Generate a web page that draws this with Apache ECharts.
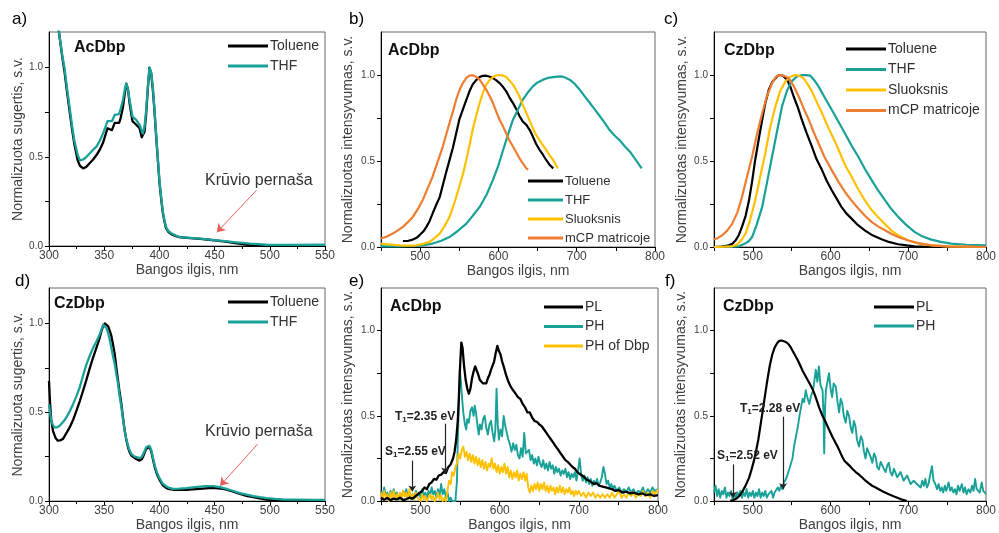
<!DOCTYPE html>
<html><head><meta charset="utf-8">
<script src="https://cdn.jsdelivr.net/npm/echarts@6/dist/echarts.min.js"></script>
<style>html,body{margin:0;padding:0;background:#fff}#c{width:999px;height:533px}</style>
</head><body><div id="c"></div>
<script>
// ---------- DATA (wavelength nm, normalized value) ----------
const aTol=[[305,1.45],[309,1.2],[312,1.06],[314,0.98],[316,0.88],[319,0.74],[321,0.65],[323,0.57],[326,0.48],[328,0.45],[331,0.435],[334,0.445],[337,0.465],[340,0.485],[343,0.51],[346,0.54],[349,0.58],[351,0.62],[353,0.66],[355,0.655],[357,0.65],[359.5,0.69],[361,0.695],[363.5,0.69],[365,0.72],[367,0.78],[369,0.87],[370,0.91],[371.5,0.88],[373,0.80],[375.6,0.70],[377,0.69],[379,0.68],[382,0.66],[384,0.61],[385,0.60],[386.5,0.64],[388,0.74],[389.5,0.88],[391,1.0],[392.5,0.97],[394,0.88],[395.5,0.76],[397,0.62],[398.5,0.49],[400,0.36],[401.5,0.27],[403,0.19],[404.5,0.14],[406,0.10],[408,0.08],[411,0.065],[415,0.055],[418,0.05],[425,0.046],[437,0.04],[445,0.035],[452,0.03],[460,0.024],[467,0.018],[475,0.01],[482,0.005],[490,0.003],[497,0.002],[520,0.002],[550,0.002]];
const aTHF=[[305,1.45],[309,1.2],[312,1.07],[314,1.0],[316,0.9],[319,0.76],[321,0.67],[323,0.59],[326,0.51],[328,0.48],[331,0.485],[334,0.50],[337,0.52],[340,0.54],[343,0.557],[346,0.59],[349,0.632],[351,0.665],[353,0.70],[355,0.70],[357,0.70],[359.5,0.735],[361,0.74],[363.5,0.74],[365,0.77],[367,0.82],[369,0.89],[370,0.91],[371.5,0.88],[373,0.82],[375.6,0.726],[377,0.715],[379,0.707],[382,0.68],[384,0.645],[385,0.63],[386.5,0.67],[388,0.76],[389.5,0.89],[391,1.0],[392.5,0.975],[394,0.895],[395.5,0.77],[397,0.63],[398.5,0.50],[400,0.37],[401.5,0.28],[403,0.20],[404.5,0.145],[406,0.107],[408,0.085],[411,0.07],[415,0.058],[418.5,0.05],[425,0.047],[437,0.041],[445,0.036],[452,0.032],[460,0.027],[467,0.022],[475,0.017],[482,0.013],[490,0.01],[497,0.007],[520,0.006],[550,0.007]];

const bTol=[[478,0.035],[485,0.036],[490.6,0.043],[495,0.052],[499,0.068],[504,0.09],[508,0.117],[512,0.15],[516,0.195],[520,0.24],[525,0.29],[529,0.36],[533,0.43],[537.5,0.505],[542,0.58],[546,0.66],[550,0.74],[554.6,0.80],[559,0.856],[563,0.905],[567,0.944],[571.5,0.97],[576,0.988],[580,0.995],[584.5,0.996],[589,0.99],[593,0.982],[597,0.97],[601.5,0.953],[606,0.93],[610,0.905],[614,0.87],[618.6,0.837],[623,0.80],[627,0.76],[631,0.73],[635.7,0.71],[640,0.68],[644,0.642],[648,0.60],[652.7,0.564],[657,0.535],[661,0.506],[665,0.48],[670,0.457]];
const bTHF=[[450,0.004],[470,0.004],[495,0.006],[505,0.01],[516,0.02],[527,0.036],[537.5,0.058],[548,0.093],[559,0.136],[567,0.18],[576,0.233],[585,0.305],[593,0.39],[600,0.475],[606,0.564],[612,0.65],[618.6,0.74],[625,0.80],[631,0.856],[637,0.895],[644,0.934],[650,0.957],[657,0.973],[663,0.983],[670,0.988],[675,0.99],[680.5,0.992],[685,0.985],[691,0.973],[697,0.95],[704,0.914],[710,0.877],[716.8,0.837],[723,0.80],[729.6,0.76],[736,0.72],[742,0.68],[748,0.65],[755,0.62],[761,0.587],[768,0.554],[775,0.51],[783,0.457]];
const bSl=[[450,0.02],[460,0.015],[473.5,0.01],[485,0.008],[495,0.01],[504,0.018],[512,0.03],[518,0.05],[525,0.078],[531,0.12],[537.5,0.175],[544,0.26],[550,0.35],[555,0.43],[559,0.506],[563,0.59],[567,0.68],[571.5,0.76],[576,0.837],[580,0.895],[584.5,0.944],[589,0.972],[593,0.988],[597,0.997],[601.5,1.0],[606,0.996],[610,0.988],[614,0.968],[618.6,0.944],[623,0.91],[627,0.875],[631,0.828],[635.7,0.778],[640,0.733],[644,0.69],[648,0.653],[652.7,0.62],[657,0.59],[661,0.564],[665,0.535],[670,0.506],[673,0.48],[676,0.457]];
const bmCP=[[450,0.049],[457,0.06],[465,0.078],[471,0.095],[478,0.117],[484,0.143],[490.6,0.175],[497,0.22],[503,0.27],[509,0.335],[516,0.41],[522,0.49],[529,0.584],[533,0.65],[537.5,0.72],[542,0.79],[546,0.856],[550,0.91],[554.6,0.953],[559,0.983],[563,0.996],[567,0.998],[571.5,0.99],[576,0.973],[580,0.945],[584.5,0.914],[589,0.876],[593,0.837],[597,0.79],[601.5,0.74],[606,0.70],[610,0.66],[614,0.62],[618.6,0.584],[623,0.548],[627,0.515],[631,0.487],[635.7,0.457],[638,0.45]];

const cTol=[[450,0],[460,0.003],[469,0.01],[474,0.02],[478,0.04],[482,0.07],[486,0.117],[490.6,0.18],[495,0.27],[499,0.38],[503,0.506],[507.5,0.625],[512,0.74],[516,0.835],[520.5,0.914],[525,0.96],[529,0.98],[532,0.995],[535,1.0],[539,0.995],[544,0.973],[548,0.935],[552.5,0.875],[558,0.81],[563,0.74],[569,0.665],[576,0.584],[582,0.51],[589,0.447],[595,0.385],[601.5,0.33],[608,0.28],[614,0.233],[620,0.197],[627,0.165],[635,0.128],[644,0.097],[654,0.068],[665.6,0.045],[676,0.028],[687,0.016],[698,0.009],[708,0.004],[730,0.001],[800,0]];
const cTHF=[[450,0],[470,0.002],[482,0.004],[490,0.02],[495,0.035],[499,0.058],[505,0.13],[512,0.233],[518,0.37],[524.7,0.525],[531,0.67],[537.5,0.817],[544,0.91],[550,0.963],[556,0.99],[563,1.0],[568,0.999],[574,0.996],[579,0.97],[584.5,0.934],[593,0.865],[601.5,0.798],[610,0.73],[618.6,0.66],[627,0.59],[635.7,0.525],[644,0.455],[652.7,0.39],[661,0.33],[670,0.272],[678,0.222],[687,0.175],[697,0.13],[708,0.088],[718,0.062],[729.6,0.043],[742,0.03],[755,0.02],[775,0.013],[800,0.01]];
const cSl=[[450,0],[465,0.002],[473.5,0.004],[480,0.015],[486,0.045],[490.6,0.078],[496,0.15],[503,0.27],[509,0.4],[516,0.545],[522,0.69],[529,0.817],[535,0.905],[542,0.963],[548,0.99],[554.6,1.0],[560,0.995],[565,0.982],[570,0.95],[576,0.905],[582,0.845],[589,0.778],[595,0.715],[601.5,0.652],[608,0.59],[614,0.525],[620,0.465],[627,0.41],[635,0.34],[644,0.272],[652,0.22],[661,0.175],[670,0.133],[678,0.097],[688,0.065],[699.7,0.039],[710,0.024],[721,0.014],[735,0.008],[751,0.004],[800,0]];
const cmCP=[[450,0.043],[455,0.053],[460.7,0.068],[467,0.095],[473.5,0.136],[480,0.2],[486,0.29],[492,0.4],[499,0.525],[505,0.65],[512,0.778],[518,0.875],[524.7,0.953],[530,0.99],[535,1.0],[540,0.995],[546,0.982],[552,0.94],[559,0.875],[565,0.81],[572,0.74],[578,0.67],[584.5,0.603],[592,0.525],[601.5,0.447],[610,0.38],[618.6,0.32],[627,0.27],[635.7,0.224],[644,0.183],[652.7,0.146],[661,0.12],[670,0.097],[678,0.077],[687,0.058],[700,0.038],[712.5,0.023],[729.6,0.01],[751,0.004],[775,0.002],[800,0]];

const dTol=[[300,0.677],[301,0.546],[302,0.46],[303.6,0.396],[306,0.355],[308,0.34],[310,0.342],[312.7,0.35],[315.5,0.38],[318.7,0.415],[322,0.46],[324.8,0.508],[328,0.565],[330.8,0.62],[334,0.685],[337,0.75],[340,0.81],[343,0.864],[345.5,0.91],[347.5,0.957],[349,0.985],[350.5,1.0],[352,0.998],[353.5,0.985],[355,0.96],[356.5,0.93],[358,0.88],[359.6,0.826],[361,0.75],[362.6,0.677],[364,0.61],[365.6,0.546],[367,0.47],[368.6,0.396],[370,0.345],[371.6,0.303],[373,0.275],[374.7,0.256],[377,0.245],[379,0.237],[382,0.228],[384,0.235],[385,0.247],[386.5,0.27],[388,0.293],[389.5,0.303],[390.7,0.306],[392,0.29],[392.8,0.275],[394,0.24],[395.8,0.19],[398,0.148],[400.4,0.116],[403,0.09],[406.4,0.073],[409,0.067],[412.5,0.064],[418,0.063],[424.5,0.064],[430,0.066],[436.6,0.069],[442,0.072],[448.7,0.075],[455,0.071],[460.8,0.064],[467,0.053],[473,0.041],[479,0.03],[485,0.022],[491,0.015],[497,0.009],[505,0.006],[512,0.004],[530,0.002],[550,0.001]];
const dTHF=[[300,0.546],[301,0.5],[302,0.452],[303.5,0.43],[305,0.415],[307,0.415],[309.7,0.424],[312.7,0.445],[315.7,0.471],[318.7,0.505],[321.8,0.546],[324.8,0.59],[327.8,0.64],[331,0.71],[333.9,0.77],[337,0.82],[340,0.864],[343,0.9],[346,0.94],[348,0.975],[349,0.994],[350.5,0.998],[352,0.975],[353.5,0.948],[355,0.91],[356.5,0.864],[358,0.815],[359.6,0.77],[361,0.715],[362.6,0.658],[364,0.59],[365.6,0.527],[367,0.46],[368.6,0.396],[370,0.35],[371.6,0.312],[373,0.285],[374.7,0.265],[377,0.253],[379,0.247],[382,0.243],[384,0.248],[385,0.256],[386.5,0.28],[388,0.303],[389.5,0.312],[390.7,0.312],[392,0.298],[392.8,0.284],[394,0.25],[395.8,0.2],[398,0.158],[400.4,0.125],[403,0.098],[406.4,0.082],[409,0.074],[412.5,0.069],[418,0.07],[424.5,0.073],[430,0.077],[436.6,0.082],[442,0.084],[448.7,0.084],[455,0.079],[460.8,0.069],[467,0.057],[473,0.045],[479,0.036],[485,0.028],[491,0.022],[497,0.017],[505,0.012],[512,0.009],[525,0.008],[540,0.007],[550,0.007]];

const ePL=[[450,0.02],[454,0.008],[458,0.018],[462,0.005],[466,0.015],[470,0.01],[474,0.02],[478,0.006],[482,0.012],[486,0.02],[490,0.015],[494,0.03],[498,0.045],[502,0.06],[505,0.08],[508,0.07],[511,0.1],[514,0.11],[517,0.13],[520,0.125],[523,0.15],[526,0.155],[529,0.17],[532,0.165],[535,0.2],[538,0.215],[541,0.25],[543,0.29],[545,0.36],[547,0.47],[548.5,0.62],[550,0.8],[551.5,0.93],[553,0.9],[555,0.79],[557,0.71],[559,0.66],[561,0.63],[563,0.66],[565,0.72],[567,0.76],[569,0.79],[571,0.78],[573,0.74],[575,0.71],[577,0.7],[579,0.69],[581,0.7],[583,0.69],[585,0.72],[587,0.74],[589,0.77],[591,0.78],[593,0.82],[595,0.87],[597,0.91],[599,0.88],[601,0.86],[603,0.82],[605,0.79],[608,0.74],[611,0.7],[614,0.67],[617,0.65],[620,0.63],[623,0.61],[626,0.6],[629,0.57],[632,0.55],[635,0.52],[638,0.52],[641,0.49],[644,0.47],[647,0.465],[650,0.45],[653,0.44],[656,0.42],[659,0.4],[662,0.38],[665,0.36],[668,0.34],[671,0.32],[674,0.3],[677,0.28],[680,0.26],[683,0.24],[686,0.23],[689,0.215],[692,0.2],[695,0.19],[698,0.17],[701,0.16],[704,0.15],[707,0.14],[710,0.125],[713,0.12],[716,0.11],[719,0.1],[722,0.105],[726,0.09],[730,0.085],[734,0.08],[738,0.075],[742,0.07],[746,0.06],[750,0.065],[755,0.05],[760,0.055],[765,0.045],[770,0.05],[775,0.04],[780,0.045],[785,0.035],[790,0.04],[795,0.03],[800,0.035]];
const ePH=[[450,0.06],[452,0.02],[454,0.08],[456,0.03],[458,0.05],[460,0.01],[462,0.06],[464,0.02],[466,0.07],[468,0.03],[470,0.05],[472,0.01],[474,0.04],[476,0.02],[478,0.06],[480,0.03],[482,0.07],[484,0.02],[486,0.05],[488,0.01],[490,0.04],[492,0.02],[494,0.06],[496,0.03],[498,0.05],[500,0.02],[502,0.07],[504,0.03],[506,0.05],[508,0.02],[510,0.06],[512,0.03],[514,0.08],[516,0.04],[518,0.06],[520,0.02],[522,0.07],[524,0.03],[526,0.1],[528,0.04],[530,0.07],[532,0.02],[534,0.05],[536,0.0],[538,0.02],[540,0.0],[542,0.01],[544,0.0],[546,0.12],[547,0.35],[548.5,0.6],[549.5,0.77],[551,0.7],[552.5,0.6],[554,0.52],[556,0.45],[557.6,0.42],[559,0.48],[561,0.46],[563,0.53],[565,0.55],[567,0.5],[568.5,0.56],[570,0.52],[572,0.44],[573.5,0.39],[575,0.45],[577,0.42],[579,0.48],[581,0.5],[583,0.43],[585,0.39],[587,0.45],[589,0.47],[591,0.4],[593,0.35],[594.5,0.42],[596,0.66],[597.5,0.45],[599,0.36],[601,0.42],[603,0.38],[605,0.5],[607,0.44],[609,0.4],[611,0.36],[613,0.33],[615,0.29],[617,0.34],[619,0.3],[621,0.33],[623,0.27],[625,0.25],[627,0.31],[629,0.26],[631,0.4],[633,0.28],[635,0.27],[637,0.3],[639,0.24],[641,0.27],[643,0.22],[645,0.25],[647,0.21],[649,0.26],[651,0.22],[653,0.2],[655,0.24],[657,0.19],[659,0.22],[661,0.18],[663,0.23],[665,0.19],[667,0.21],[669,0.16],[671,0.2],[673,0.17],[675,0.19],[677,0.15],[679,0.18],[681,0.16],[683,0.19],[685,0.14],[687,0.17],[689,0.13],[691,0.16],[693,0.14],[695,0.17],[697,0.12],[699,0.18],[701,0.25],[703,0.15],[705,0.12],[707,0.15],[709,0.11],[711,0.14],[713,0.1],[715,0.13],[717,0.09],[719,0.12],[721,0.1],[723,0.13],[725,0.09],[727,0.11],[729,0.14],[731,0.2],[733,0.16],[735,0.1],[737,0.12],[739,0.08],[741,0.1],[743,0.07],[745,0.09],[748,0.06],[751,0.08],[754,0.05],[757,0.07],[760,0.05],[763,0.08],[766,0.05],[769,0.07],[772,0.04],[775,0.06],[778,0.05],[781,0.08],[784,0.04],[787,0.07],[790,0.05],[793,0.08],[796,0.06],[800,0.07]];
const eDbp=[[450,0.05],[452,0.01],[454,0.06],[456,0.02],[458,0.04],[460,0.0],[462,0.05],[464,0.02],[466,0.06],[468,0.01],[470,0.04],[472,0.02],[474,0.05],[476,0.01],[478,0.06],[480,0.03],[482,0.05],[484,0.01],[486,0.07],[488,0.02],[490,0.04],[492,0.01],[494,0.05],[496,0.02],[498,0.03],[500,0.0],[502,0.04],[504,0.01],[506,0.03],[508,0.0],[510,0.02],[512,0.04],[514,0.01],[516,0.03],[518,0.0],[520,0.02],[522,0.05],[524,0.01],[526,0.03],[528,0.0],[530,0.02],[532,0.0],[534,0.06],[536,0.12],[538,0.1],[540,0.17],[542,0.15],[544,0.2],[546,0.22],[548,0.28],[550,0.25],[552,0.3],[554,0.32],[556,0.26],[558,0.29],[560,0.24],[562,0.28],[564,0.23],[566,0.27],[568,0.22],[570,0.26],[572,0.21],[574,0.25],[576,0.2],[578,0.24],[580,0.19],[582,0.23],[584,0.18],[586,0.22],[588,0.2],[590,0.25],[592,0.19],[594,0.22],[596,0.17],[598,0.21],[600,0.16],[602,0.2],[604,0.17],[606,0.22],[608,0.16],[610,0.2],[612,0.14],[614,0.18],[616,0.13],[618,0.17],[620,0.14],[622,0.18],[624,0.12],[626,0.16],[628,0.13],[630,0.17],[632,0.12],[634,0.16],[636,0.08],[638,0.05],[640,0.09],[642,0.06],[644,0.1],[646,0.07],[648,0.11],[650,0.06],[652,0.1],[654,0.07],[656,0.11],[658,0.06],[660,0.09],[662,0.05],[664,0.09],[666,0.06],[668,0.08],[670,0.04],[672,0.08],[674,0.05],[676,0.09],[678,0.05],[680,0.08],[682,0.04],[684,0.07],[686,0.05],[688,0.08],[690,0.04],[692,0.06],[694,0.03],[696,0.06],[698,0.04],[700,0.06],[703,0.03],[706,0.05],[709,0.02],[712,0.05],[715,0.03],[718,0.05],[721,0.02],[724,0.04],[727,0.02],[730,0.04],[733,0.02],[736,0.04],[739,0.02],[742,0.05],[745,0.02],[748,0.04],[751,0.06],[754,0.02],[757,0.04],[760,0.02],[763,0.05],[766,0.03],[769,0.05],[772,0.02],[775,0.04],[778,0.03],[781,0.06],[784,0.03],[787,0.05],[790,0.02],[793,0.06],[796,0.04],[800,0.07]];

const fPL=[[471,0.002],[475,0.006],[479,0.015],[483,0.032],[487,0.06],[491,0.095],[495,0.135],[498,0.18],[501,0.23],[504,0.29],[507,0.36],[510,0.45],[513,0.54],[516,0.63],[519,0.72],[522,0.8],[525,0.86],[528,0.9],[531,0.925],[534,0.94],[537,0.942],[540,0.938],[543,0.932],[546,0.92],[549,0.9],[552,0.875],[555,0.85],[558,0.825],[561,0.795],[564,0.765],[567,0.74],[570,0.715],[573,0.69],[577,0.655],[580,0.62],[583,0.58],[586,0.54],[589.6,0.5],[593,0.47],[596,0.44],[599,0.41],[602,0.38],[606,0.345],[609,0.32],[612,0.29],[615,0.26],[618,0.235],[621.6,0.22],[625,0.205],[628,0.19],[632,0.172],[636.6,0.155],[641,0.137],[645,0.12],[649,0.105],[653.5,0.09],[658,0.08],[662,0.07],[668,0.055],[675,0.04],[681,0.028],[687.6,0.017],[693,0.007],[698,0.0]];
const fPH=[[450,0.05],[452,0.09],[454,0.03],[456,0.07],[458,0.02],[460,0.06],[462,0.04],[464,0.08],[466,0.02],[468,0.05],[470,0.03],[472,0.06],[474,0.01],[476,0.04],[478,0.02],[480,0.05],[482,0.03],[484,0.06],[486,0.02],[488,0.05],[490,0.03],[492,0.07],[494,0.02],[496,0.05],[498,0.03],[500,0.06],[502,0.02],[504,0.05],[506,0.03],[508,0.07],[510,0.02],[512,0.05],[514,0.03],[516,0.06],[518,0.02],[520,0.04],[522,0.03],[524,0.06],[526,0.02],[528,0.05],[530,0.04],[532,0.08],[534,0.06],[536,0.09],[538,0.07],[540,0.11],[542.7,0.13],[545,0.16],[547,0.19],[549,0.22],[551,0.25],[553,0.32],[555.5,0.38],[558,0.44],[560,0.5],[562,0.55],[564,0.6],[566,0.58],[568,0.65],[570,0.61],[572.6,0.57],[575,0.62],[577,0.64],[579,0.7],[581,0.77],[583,0.7],[585,0.79],[587,0.68],[589.7,0.65],[591,0.5],[591.8,0.28],[593,0.55],[594,0.65],[596,0.7],[598,0.75],[600,0.66],[602,0.61],[604,0.69],[606.8,0.67],[609,0.58],[611,0.52],[613,0.6],[615,0.575],[617,0.5],[619.6,0.46],[621.5,0.53],[623.8,0.5],[626,0.43],[628,0.4],[630,0.47],[632,0.44],[634,0.36],[636.6,0.32],[639,0.38],[640.9,0.36],[643,0.29],[645,0.25],[647,0.31],[649.4,0.32],[651.5,0.26],[653.7,0.225],[656,0.28],[658,0.26],[660,0.2],[662.2,0.185],[664.5,0.23],[666.5,0.24],[668.5,0.19],[670.8,0.17],[673,0.21],[675,0.225],[677,0.17],[679.3,0.15],[681.5,0.19],[683.6,0.185],[685.7,0.14],[687.8,0.13],[690,0.17],[692,0.165],[694,0.12],[696.4,0.11],[698.5,0.15],[700.6,0.145],[703,0.1],[705,0.09],[707,0.12],[709,0.13],[711,0.1],[713.5,0.1],[716,0.08],[718,0.12],[720,0.09],[722,0.13],[724,0.08],[726,0.1],[728,0.15],[730.5,0.205],[732.5,0.12],[734.8,0.1],[737,0.07],[739,0.1],[741,0.06],[743,0.08],[745,0.05],[747,0.09],[749,0.06],[751.9,0.11],[754,0.06],[756,0.08],[758,0.05],[760,0.07],[762,0.04],[764,0.09],[766,0.06],[769,0.1],[771,0.05],[773,0.08],[775,0.04],[777.5,0.07],[780,0.05],[782,0.09],[784,0.06],[786,0.13],[788,0.07],[790,0.08],[792,0.05],[794.5,0.11],[796.5,0.06],[798.8,0.07],[800,0.04]];

// axis ranges / tick settings
const xRangeAbs=[300,550], xRangeEm=[450,800];
const yMaxAbs=1.2, yMaxEm=1.25;
const xName='Bangos ilgis, nm';
const yNameAbs='Normalizuota sugertis, s.v.';
const yNameEm='Normalizuotas intensyvumas, s.v.';

// ---------- CHART ----------
const FONT='"Liberation Sans", Arial, sans-serif';
const C={blk:'#000000',teal:'#19a198',yel:'#ffc000',org:'#ed7d31'};
const grids=[
 {left:49,top:32,width:276,height:214},
 {left:381,top:32,width:274,height:215},
 {left:714,top:32,width:274,height:215},
 {left:49,top:288,width:276,height:214},
 {left:381,top:288,width:277,height:214},
 {left:714,top:288,width:274,height:214}
].map(g=>Object.assign({show:true,borderColor:'#666',borderWidth:1,backgroundColor:'#fff'},g));

function xAx(i,range,interval,step,minor,gap){
 return {gridIndex:i,type:'value',min:range[0],max:range[1],interval:interval,
  name:xName,nameLocation:'middle',nameGap:gap,
  nameTextStyle:{fontFamily:FONT,fontSize:14,color:'#404040'},
  axisLine:{show:true,lineStyle:{color:'#000',width:1}},
  axisTick:{show:true,inside:false,length:4,lineStyle:{color:'#000'}},
  minorTick:{show:minor,splitNumber:2,length:3,lineStyle:{color:'#000'}},
  splitLine:{show:false},
  axisLabel:{fontFamily:FONT,fontSize:12,color:'#404040',margin:4,
   formatter:v=>(Math.round(v)%step===0?String(Math.round(v)):'')}};
}
function yAx(i,max,gap){
 return {gridIndex:i,type:'value',min:0,max:max,interval:0.25,
  name:(i===0||i===3)?yNameAbs:yNameEm,nameLocation:'middle',nameGap:gap,
  nameTextStyle:{fontFamily:FONT,fontSize:14,color:'#404040'},
  axisLine:{show:true,lineStyle:{color:'#000',width:1}},
  axisTick:{show:true,inside:false,length:4,lineStyle:{color:'#000'}},
  splitLine:{show:false},
  axisLabel:{fontFamily:FONT,fontSize:10,color:'#404040',margin:6,showMaxLabel:false,
   formatter:v=>{const k=v*2;return (Math.abs(k-Math.round(k))<1e-6&&v<=1.0001)?v.toFixed(1):'';}}};
}
const xAxis=[xAx(0,xRangeAbs,50,50,true,15),xAx(1,xRangeEm,50,100,false,15),xAx(2,xRangeEm,50,100,false,15),
 xAx(3,xRangeAbs,50,50,true,14),xAx(4,xRangeEm,50,100,false,14),xAx(5,xRangeEm,50,100,false,14)];
const yAxis=[yAx(0,yMaxAbs,24),yAx(1,yMaxEm,26),yAx(2,yMaxEm,25),yAx(3,yMaxAbs,24),yAx(4,yMaxEm,26),yAx(5,yMaxEm,26)];

function ln(name,data,i,color,w,extra){
 return Object.assign({name:name,type:'line',xAxisIndex:i,yAxisIndex:i,data:data,showSymbol:false,symbol:'none',
  smooth:false,clip:true,animation:false,lineStyle:{color:color,width:w,join:'round'},itemStyle:{color:color},z:3},extra||{});
}
function arrow(p1,p2,color,w,size){
 return {silent:true,animation:false,symbol:['none','arrow'],symbolSize:size,
  lineStyle:{color:color,width:w,type:'solid'},label:{show:false},
  data:[[{coord:p1},{coord:p2}]]};
}
const series=[
 ln('Toluene',aTol,0,C.blk,2.3),
 ln('THF',aTHF,0,C.teal,2.3,{markLine:arrow([488,0.313],[452,0.077],'#e8605a',1,8)}),
 ln('Toluene',bTol,1,C.blk,2.2),
 ln('THF',bTHF,1,C.teal,2.2),
 ln('Sluoksnis',bSl,1,C.yel,2.2),
 ln('mCP matricoje',bmCP,1,C.org,2.2),
 ln('Toluene',cTol,2,C.blk,2.2),
 ln('THF',cTHF,2,C.teal,2.2),
 ln('Sluoksnis',cSl,2,C.yel,2.2),
 ln('mCP matricoje',cmCP,2,C.org,2.2),
 ln('Toluene',dTol,3,C.blk,2.3),
 ln('THF',dTHF,3,C.teal,2.3,{markLine:arrow([489,0.321],[455,0.086],'#e8605a',1,8)}),
 ln('PH',ePH,4,C.teal,1.9),
 ln('PH of Dbp',eDbp,4,C.yel,1.9),
 ln('PL',ePL,4,C.blk,2.3,{markLine:{silent:true,animation:false,symbol:['none','arrow'],symbolSize:6,
   lineStyle:{color:'#222',width:1.2,type:'solid'},label:{show:false},
   data:[[{coord:[531,0.454]},{coord:[531,0.162]}],[{coord:[489.5,0.238]},{coord:[489.5,0.057]}]]}}),
 ln('PH',fPH,5,C.teal,1.9),
 ln('PL',fPL,5,C.blk,2.2,{markLine:{silent:true,animation:false,symbol:['none','arrow'],symbolSize:6,
   lineStyle:{color:'#222',width:1.2,type:'solid'},label:{show:false},
   data:[[{coord:[539,0.495]},{coord:[539,0.07]}],[{coord:[474.5,0.215]},{coord:[474.5,0.02]}]]}})
];
function lg(names,left,top,gap,iw,fs){
 return {data:names,orient:'vertical',left:left,top:top,itemGap:gap,itemWidth:iw,itemHeight:3,icon:'rect',
  selectedMode:false,padding:0,
  textStyle:{fontFamily:FONT,fontSize:fs,color:'#303030',lineHeight:14,padding:[0,0,0,-3]}};
}
const legend=[
 lg(['Toluene','THF'],228,39,6,40,14),
 lg(['Toluene','THF','Sluoksnis','mCP matricoje'],528,174,5,35,13),
 lg(['Toluene','THF','Sluoksnis','mCP matricoje'],846,42,6.5,40,14),
 lg(['Toluene','THF'],228,295,6,40,14),
 lg(['PL','PH','PH of Dbp'],544,300,5.5,39,14),
 lg(['PL','PH'],874,300,5,40,14)
];
function txt(x,y,t,size,weight,color){
 return {type:'text',left:x,top:y-size*0.6,silent:true,z:10,
  style:{text:t,font:(weight||'normal')+' '+size+'px '+FONT,fill:color||'#000'}};
}
function sub(x,y,a,b){
 return {type:'text',left:x,top:y-8,silent:true,z:10,
  style:{text:'{m|'+a+'}{s|1}{m|'+b+'}',font:'bold 12px '+FONT,fill:'#222',
   rich:{m:{fontFamily:FONT,fontWeight:'bold',fontSize:12,fill:'#222',lineHeight:14},
         s:{fontFamily:FONT,fontWeight:'bold',fontSize:8,fill:'#222',lineHeight:14,verticalAlign:'bottom',padding:[5,0,0,0]}}}};
}
const graphic=[
 txt(12,21,'a)',17),txt(349,21,'b)',17),txt(664,21,'c)',17),
 txt(15,283,'d)',17),txt(349,283,'e)',17),txt(665,283,'f)',17),
 txt(74,49,'AcDbp',16,'bold','#111'),txt(388,52,'AcDbp',16,'bold','#111'),txt(724,52,'CzDbp',16,'bold','#111'),
 txt(54,305,'CzDbp',16,'bold','#111'),txt(390,308,'AcDbp',16,'bold','#111'),txt(723,308,'CzDbp',16,'bold','#111'),
 txt(205,182,'Krūvio pernaša',16,'normal','#333'),txt(205,433,'Krūvio pernaša',16,'normal','#333'),
 sub(395,419,'T','=2.35 eV'),sub(385,454,'S','=2.55 eV'),
 sub(740,411,'T','=2.28 eV'),sub(717,458,'S','=2.52 eV')
];
const chart=echarts.init(document.getElementById('c'),null,{renderer:'canvas'});
chart.setOption({animation:false,backgroundColor:'#fff',grid:grids,xAxis:xAxis,yAxis:yAxis,series:series,legend:legend,graphic:graphic});
</script></body></html>
